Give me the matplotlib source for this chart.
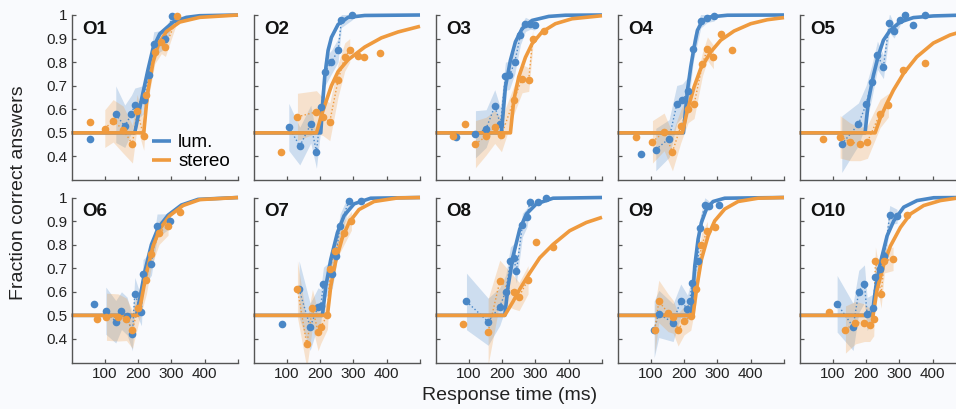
import numpy as np
import matplotlib.pyplot as plt

plt.rcParams['font.family'] = ['Liberation Sans', 'DejaVu Sans']

nan = np.nan
observers = ['O1', 'O2', 'O3', 'O4', 'O5', 'O6', 'O7', 'O8', 'O9', 'O10']

# binned data (response time in ms, fraction correct), luminance condition
lum_t = [
    [57, 133, 160, 180, 190, 217, 233, 247, 282, 303],
    [106, 139, 172, 189, 204, 214, 234, 254, 264, 296],
    [62, 120, 152, 178, 195, 210, 222, 238, 255, 270, 285, 298],
    [72, 115, 155, 178, 195, 212, 228, 250, 270, 290],
    [127, 177, 200, 217, 234, 252, 270, 284, 302, 318, 342, 377],
    [67, 103, 133, 150, 167, 183, 190, 210, 215, 240, 257, 297],
    [87, 137, 170, 194, 202, 210, 237, 247, 260, 287, 322],
    [93, 158, 193, 211, 225, 235, 243, 261, 275, 283, 308, 333],
    [110, 124, 167, 190, 210, 217, 224, 242, 247, 262, 274, 304],
    [113, 161, 178, 195, 203, 221, 228, 243, 255, 271, 293],
]
lum_p = [
    [0.476, 0.579, 0.528, 0.58, 0.62, 0.641, 0.744, 0.879, 0.897, 0.994],
    [0.525, 0.444, 0.537, 0.42, 0.61, 0.758, 0.80, 0.85, 0.977, 0.999],
    [0.483, 0.494, 0.518, 0.613, 0.537, 0.74, 0.744, 0.80, 0.914, 0.96, 0.96, 0.956],
    [0.41, 0.429, 0.476, 0.621, 0.638, 0.678, 0.857, 0.975, 0.989, 0.994],
    [0.452, 0.537, 0.621, 0.716, 0.829, 0.78, 0.966, 0.932, 0.977, 0.998, 0.956, 0.998],
    [0.549, 0.52, 0.473, 0.52, 0.497, 0.42, 0.591, 0.516, 0.677, 0.72, 0.88, 0.901],
    [0.463, 0.611, 0.451, 0.537, 0.54, 0.634, 0.677, 0.751, 0.88, 0.987, 0.987],
    [0.559, 0.473, 0.537, 0.601, 0.73, 0.744, 0.687, 0.883, 0.916, 0.98, 0.983, 1.0],
    [0.44, 0.506, 0.469, 0.563, 0.526, 0.563, 0.637, 0.73, 0.869, 0.969, 0.966, 0.969],
    [0.549, 0.451, 0.601, 0.634, 0.506, 0.53, 0.663, 0.697, 0.751, 0.926, 0.92],
]
lum_err = [
    [nan, 0.12, 0.09, 0.08, 0.07, 0.06, 0.06, 0.05, 0.04, 0.02],
    [0.10, 0.08, 0.08, 0.07, 0.07, 0.06, 0.05, 0.05, 0.03, 0.02],
    [nan, 0.10, 0.08, 0.07, 0.07, 0.06, 0.06, 0.05, 0.04, 0.03, 0.02, 0.02],
    [nan, 0.09, 0.08, 0.08, 0.07, 0.06, 0.05, 0.03, 0.02, 0.02],
    [0.12, 0.09, 0.08, 0.07, 0.06, 0.05, 0.04, 0.03, 0.02, nan, nan, nan],
    [nan, 0.10, 0.09, 0.08, 0.08, 0.07, 0.07, 0.06, 0.06, 0.05, 0.05, 0.03],
    [nan, 0.12, 0.10, 0.08, 0.07, 0.07, 0.06, 0.05, 0.05, 0.03, nan],
    [0.12, 0.10, 0.08, 0.07, 0.06, 0.06, 0.05, 0.05, 0.04, 0.03, nan, nan],
    [0.12, 0.10, 0.08, 0.07, 0.06, 0.06, 0.05, 0.05, 0.04, 0.03, 0.02, nan],
    [0.12, 0.10, 0.09, 0.08, 0.07, 0.06, 0.06, 0.05, 0.05, 0.04, 0.03],
]

# binned data, stereo condition
stereo_t = [
    [55, 100, 125, 155, 183, 197, 217, 225, 250, 270, 282, 318],
    [82, 132, 189, 209, 229, 254, 274, 289, 314, 332, 379],
    [52, 88, 120, 152, 178, 198, 235, 260, 280, 292, 325],
    [55, 105, 140, 165, 190, 212, 230, 255, 270, 288, 310, 345],
    [70, 122, 152, 182, 204, 242, 267, 310, 377],
    [77, 105, 140, 165, 183, 200, 225, 240, 263, 290, 325],
    [132, 160, 177, 194, 202, 222, 230, 244, 272, 294],
    [83, 158, 193, 235, 251, 278, 301, 353],
    [112, 124, 152, 167, 182, 200, 220, 237, 252, 270, 292],
    [88, 138, 168, 195, 211, 223, 228, 245, 255, 281, 323],
]
stereo_p = [
    [0.547, 0.518, 0.551, 0.514, 0.452, 0.593, 0.486, 0.66, 0.843, 0.886, 0.864, 0.994],
    [0.42, 0.568, 0.589, 0.568, 0.547, 0.723, 0.822, 0.85, 0.825, 0.82, 0.839],
    [0.486, 0.537, 0.452, 0.486, 0.525, 0.49, 0.638, 0.73, 0.726, 0.90, 0.932],
    [0.483, 0.462, 0.504, 0.419, 0.528, 0.603, 0.621, 0.791, 0.857, 0.822, 0.918, 0.853],
    [0.472, 0.483, 0.462, 0.452, 0.462, 0.582, 0.617, 0.766, 0.797],
    [0.483, 0.494, 0.491, 0.483, 0.44, 0.53, 0.651, 0.759, 0.851, 0.88, 0.94],
    [0.611, 0.377, 0.53, 0.43, 0.451, 0.501, 0.697, 0.773, 0.851, 0.901],
    [0.463, 0.43, 0.644, 0.597, 0.58, 0.651, 0.811, 0.791],
    [0.44, 0.559, 0.511, 0.494, 0.44, 0.477, 0.497, 0.611, 0.797, 0.859, 0.873],
    [0.516, 0.44, 0.469, 0.469, 0.459, 0.483, 0.73, 0.591, 0.73, 0.74, 0.926],
]
stereo_err = [
    [nan, 0.08, 0.09, 0.10, 0.08, 0.07, 0.06, 0.06, 0.05, 0.05, 0.04, 0.02],
    [nan, 0.10, 0.09, 0.08, 0.08, 0.07, 0.06, 0.05, nan, nan, nan],
    [nan, nan, 0.10, 0.08, 0.07, 0.07, 0.06, 0.06, 0.05, 0.04, nan],
    [nan, 0.09, 0.08, 0.08, 0.07, 0.06, 0.06, 0.05, 0.05, 0.05, nan, nan],
    [nan, 0.09, 0.08, 0.07, 0.07, 0.06, 0.05, nan, nan],
    [nan, 0.10, 0.10, 0.09, 0.08, 0.07, 0.06, 0.05, 0.05, 0.04, nan],
    [0.12, 0.10, 0.08, 0.08, 0.07, 0.06, 0.06, 0.05, 0.05, 0.04],
    [nan, 0.14, 0.09, 0.07, 0.06, 0.06, nan, nan],
    [0.10, 0.09, 0.08, 0.07, 0.07, 0.06, 0.06, 0.05, 0.05, 0.04, nan],
    [nan, 0.10, 0.09, 0.08, 0.07, 0.07, 0.06, 0.06, 0.05, 0.05, nan],
]

# fitted psychometric curves
lum_fit_t = [
    [0, 190, 200, 210, 230, 245, 265, 305, 345, 385, 500],
    [0, 202, 209, 214, 224, 234, 254, 284, 334, 500],
    [0, 198, 210, 225, 240, 260, 290, 340, 390, 500],
    [0, 198, 210, 220, 230, 240, 255, 280, 330, 500],
    [0, 197, 207, 222, 237, 252, 272, 302, 342, 402, 500],
    [0, 195, 205, 220, 240, 260, 290, 330, 380, 500],
    [0, 207, 217, 232, 252, 272, 302, 352, 500],
    [0, 208, 218, 233, 253, 273, 303, 353, 500],
    [0, 222, 232, 242, 252, 267, 287, 322, 500],
    [0, 218, 228, 243, 263, 283, 313, 353, 403, 500],
]
lum_fit_p = [
    [0.5, 0.5, 0.57, 0.64, 0.77, 0.86, 0.92, 0.97, 0.99, 0.997, 1.0],
    [0.5, 0.5, 0.65, 0.74, 0.85, 0.905, 0.96, 0.99, 0.998, 1.0],
    [0.5, 0.5, 0.695, 0.808, 0.886, 0.942, 0.977, 0.994, 0.999, 1.0],
    [0.5, 0.5, 0.68, 0.78, 0.864, 0.935, 0.975, 0.992, 0.999, 1.0],
    [0.5, 0.5, 0.638, 0.744, 0.829, 0.893, 0.935, 0.97, 0.989, 0.996, 1.0],
    [0.5, 0.5, 0.57, 0.685, 0.80, 0.87, 0.925, 0.968, 0.992, 1.0],
    [0.5, 0.5, 0.623, 0.737, 0.851, 0.923, 0.973, 0.997, 1.0],
    [0.5, 0.5, 0.623, 0.751, 0.866, 0.93, 0.973, 0.997, 1.0],
    [0.5, 0.5, 0.709, 0.823, 0.894, 0.951, 0.983, 0.997, 1.0],
    [0.5, 0.5, 0.609, 0.723, 0.837, 0.901, 0.959, 0.987, 0.999, 1.0],
]
stereo_fit_t = [
    [0, 217, 225, 230, 245, 260, 285, 325, 385, 500],
    [0, 189, 204, 234, 254, 284, 334, 384, 434, 500],
    [0, 225, 235, 250, 270, 290, 320, 360, 410, 500],
    [0, 195, 210, 230, 250, 280, 310, 350, 400, 450, 500],
    [0, 227, 242, 262, 282, 312, 352, 402, 452, 500],
    [0, 200, 210, 225, 245, 265, 295, 335, 385, 500],
    [0, 222, 232, 247, 267, 287, 317, 362, 432, 500],
    [0, 208, 233, 253, 283, 313, 353, 403, 453, 500],
    [0, 227, 237, 252, 272, 292, 322, 362, 422, 500],
    [0, 221, 233, 253, 273, 303, 333, 373, 423, 471, 500],
]
stereo_fit_p = [
    [0.5, 0.5, 0.62, 0.68, 0.80, 0.87, 0.93, 0.97, 0.99, 1.0],
    [0.5, 0.5, 0.575, 0.70, 0.76, 0.81, 0.864, 0.903, 0.928, 0.952],
    [0.5, 0.5, 0.638, 0.737, 0.82, 0.878, 0.928, 0.963, 0.984, 0.997],
    [0.5, 0.5, 0.596, 0.695, 0.773, 0.843, 0.893, 0.932, 0.963, 0.98, 0.989],
    [0.5, 0.5, 0.561, 0.624, 0.681, 0.751, 0.822, 0.881, 0.915, 0.935],
    [0.5, 0.5, 0.566, 0.68, 0.794, 0.866, 0.923, 0.966, 0.991, 1.0],
    [0.5, 0.5, 0.623, 0.73, 0.83, 0.894, 0.949, 0.983, 0.998, 1.0],
    [0.5, 0.5, 0.559, 0.611, 0.68, 0.744, 0.801, 0.859, 0.894, 0.916],
    [0.5, 0.5, 0.609, 0.737, 0.837, 0.901, 0.951, 0.983, 0.997, 1.0],
    [0.5, 0.5, 0.609, 0.716, 0.794, 0.873, 0.93, 0.966, 0.987, 0.997, 1.0],
]

BLUE = '#4a87c6'
ORANGE = '#ef9a3e'
BG = '#f9fafd'

fig = plt.figure(figsize=(9.56, 4.09), dpi=100, facecolor=BG)

W, H = 956, 409
for i, name in enumerate(observers):
    row, col = divmod(i, 5)
    x0 = 71.5 + col * 182
    ybot = 180 if row == 0 else 362.5
    ax = fig.add_axes([x0 / W, (H - ybot) / H, 166.5 / W, 165 / H])
    ax.set_facecolor('none')

    series = [
        (lum_t[i], lum_p[i], lum_err[i], lum_fit_t[i], lum_fit_p[i], BLUE, 'lum.'),
        (stereo_t[i], stereo_p[i], stereo_err[i], stereo_fit_t[i], stereo_fit_p[i], ORANGE, 'stereo'),
    ]
    for t, p, err, ft, fp, c, lab in series:
        t, p, e = np.array(t), np.array(p), np.array(err)
        ok = ~np.isnan(e)
        ax.fill_between(t[ok], p[ok] - e[ok], p[ok] + e[ok], color=c, alpha=0.25, lw=0)
        ax.plot(t[ok], p[ok], ':', color=c, lw=1.0)
    for t, p, err, ft, fp, c, lab in series:
        ax.plot(ft, fp, color=c, lw=2.6, clip_on=False, solid_capstyle='butt', label=lab)
    for t, p, err, ft, fp, c, lab in series:
        ax.plot(t, p, 'o', color=c, ms=5.5, mec='none', clip_on=False)

    ax.set_xlim(0, 500)
    ax.set_ylim(0.3, 1.0)
    for s in ['top', 'right']:
        ax.spines[s].set_visible(False)
    for s in ['left', 'bottom']:
        ax.spines[s].set_color('#555555')
        ax.spines[s].set_linewidth(1.0)
    ax.tick_params(direction='in', length=3, width=0.9, color='#555555',
                   labelsize=11, pad=3, labelcolor='#222222')
    ax.set_yticks([0.4, 0.5, 0.6, 0.7, 0.8, 0.9, 1.0])
    ax.set_xticks([100, 200, 300, 400, 500])
    if col == 0:
        ax.set_yticklabels(['0.4', '0.5', '0.6', '0.7', '0.8', '0.9', '1'])
    else:
        ax.set_yticklabels([])
    if row == 1:
        ax.set_xticklabels(['100', '200', '300', '400', ''])
    else:
        ax.set_xticklabels([])

    ax.text(0.065, 0.965, name, transform=ax.transAxes, ha='left', va='top',
            fontsize=13.5, fontweight='bold', color='#111111')

    if i == 0:
        ax.legend(loc='lower right', bbox_to_anchor=(1.03, -0.02), frameon=False,
                  fontsize=13.5, handlelength=1.0, handletextpad=0.4,
                  labelspacing=0.1, borderpad=0.2)

fig.text(0.019, 0.53, 'Fraction correct answers', rotation=90, ha='center',
         va='center', fontsize=14, color='#222222')
fig.text(0.533, 0.034, 'Response time (ms)', ha='center', va='center',
         fontsize=14, color='#222222')

fig.savefig('out.png', dpi=100, facecolor=BG)
